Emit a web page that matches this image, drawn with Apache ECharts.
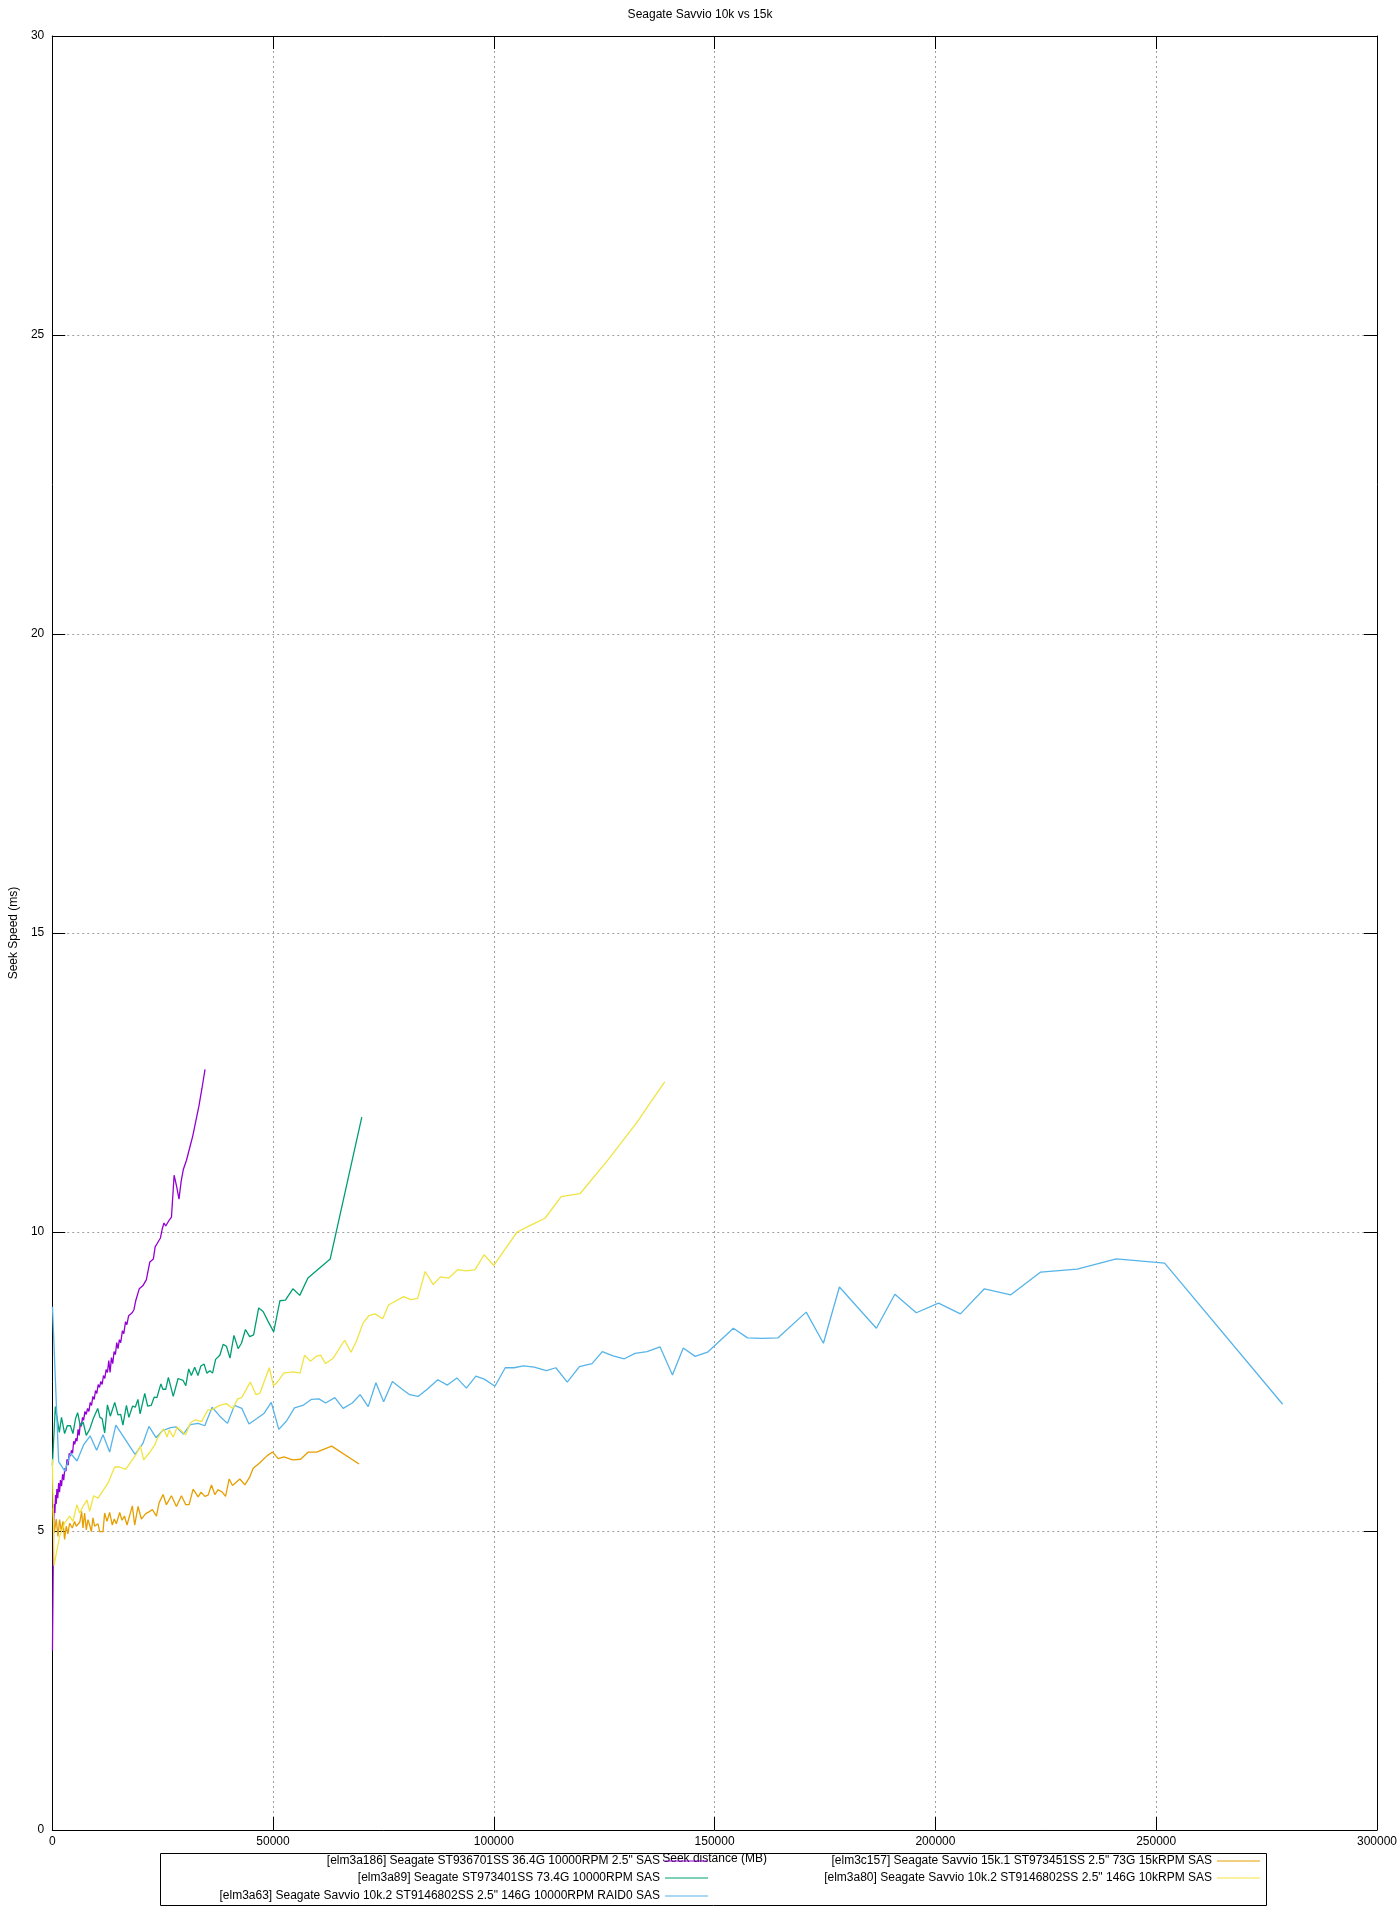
<!DOCTYPE html>
<html><head><meta charset="utf-8">
<script src="https://cdn.jsdelivr.net/npm/echarts/dist/echarts.min.js"></script>
<style>html,body{margin:0;padding:0;background:#fff}#c{width:1400px;height:1920px}</style>
</head><body><div id="c"></div>
<script>
var FONT = "'Liberation Sans', Arial, sans-serif";
var titleText = 'Seagate Savvio 10k vs 15k';
var xName = 'Seek distance (MB)';
var yName = 'Seek Speed (ms)';
var xTicks = {min: 0, max: 300000, interval: 50000};
var yTicks = {min: 0, max: 30, interval: 5};

var names = [
  '[elm3a186] Seagate ST936701SS 36.4G 10000RPM 2.5" SAS',
  '[elm3a89] Seagate ST973401SS 73.4G 10000RPM SAS',
  '[elm3a63] Seagate Savvio 10k.2 ST9146802SS 2.5" 146G 10000RPM RAID0 SAS',
  '[elm3c157] Seagate Savvio 15k.1 ST973451SS 2.5" 73G 15kRPM SAS',
  '[elm3a80] Seagate Savvio 10k.2 ST9146802SS 2.5" 146G 10kRPM SAS'
];
var colors = ['#9400d3', '#009e73', '#56b4e9', '#e69f00', '#f0e442'];

var dataA186 = [
[50,3.0],[300,5.1],[450,5.45],[600,5.3],[750,5.6],[900,5.45],[1050,5.7],[1250,5.55],[1450,5.8],[1650,5.65],
[1850,5.85],[2100,5.75],[2350,5.95],[2600,5.85],[2850,6.05],[3100,6.0],[3350,6.2],[3600,6.1],[3850,6.3],[4100,6.25],
[4350,6.35],[4600,6.3],[4850,6.5],[5100,6.45],[5350,6.55],[5600,6.5],[5850,6.7],[6100,6.6],[6350,6.8],[6600,6.75],
[6850,6.9],[7100,6.85],[7400,7.0],[7700,6.95],[8000,7.05],[8300,7.0],[8600,7.15],[8900,7.1],[9200,7.25],[9500,7.2],
[9800,7.35],[10100,7.3],[10400,7.45],[10700,7.4],[11000,7.5],[11300,7.45],[11600,7.6],[11900,7.55],[12200,7.7],[12500,7.65],
[12800,7.85],[13100,7.65],[13400,7.9],[13700,7.8],[14000,8.0],[14300,7.95],[14600,8.15],[14900,8.05],[15200,8.2],[15500,8.15],
[15900,8.35],[16200,8.3],[16600,8.5],[16900,8.45],[17300,8.6],[17700,8.6],[18100,8.65],[18500,8.7],[18900,8.85],[19300,8.85],
[19700,9.05],[20100,9.05],[20500,9.1],[20900,9.15],[21300,9.2],[21700,9.35],[22100,9.5],[22500,9.5],[22900,9.55],[23300,9.75],
[23700,9.8],[24100,9.85],[24500,9.9],[24900,10.05],[25300,10.15],[25700,10.1],[26100,10.15],[26500,10.2],[27000,10.25],[27600,10.95],
[28200,10.75],[28700,10.55],[29200,10.85],[29700,11.05],[30400,11.2],[31100,11.4],[31800,11.6],[32500,11.85],[33200,12.1],[33900,12.4],
[34600,12.72]
];

var dataA89 = [
[30,6.1],[700,7.08],[1100,7.08],[1600,6.65],[2100,6.9],[2800,6.63],[3400,6.76],[4100,6.76],[4690,6.63],[5280,6.88],
[5750,6.98],[6350,6.76],[7000,6.82],[7700,6.6],[8470,6.7],[9300,6.88],[10300,7.05],[10800,6.9],[11300,6.88],[11870,6.64],
[12500,7.11],[13150,6.92],[14150,7.15],[14900,6.94],[15500,6.95],[16000,6.77],[16800,7.1],[17350,6.9],[18200,7.09],[18800,7.07],
[19400,7.2],[19900,6.96],[20950,7.3],[21600,7.09],[22400,7.1],[23100,7.24],[23700,7.23],[24600,7.46],[25050,7.37],[25700,7.37],
[26300,7.57],[27400,7.25],[28500,7.55],[29600,7.52],[30250,7.43],[30900,7.71],[31500,7.6],[32250,7.74],[33000,7.6],[33650,7.76],
[34400,7.79],[35000,7.64],[35700,7.68],[36300,7.64],[37000,7.87],[37950,7.94],[38700,8.12],[39450,8.09],[40250,7.89],[41150,8.27],
[42100,8.05],[42850,8.14],[43750,8.37],[44700,8.25],[45600,8.28],[46750,8.73],[47750,8.67],[48850,8.51],[50150,8.33],[51550,8.85],
[52800,8.86],[54500,9.05],[56050,8.94],[57900,9.23],[62950,9.55],[70100,11.92]
];

var dataA63 = [
[50,8.75],[1450,6.16],[2850,6.0],[4150,6.3],[5600,6.17],[7100,6.44],[8600,6.59],[10050,6.35],[11500,6.61],[13000,6.32],
[14400,6.77],[18750,6.28],[20500,6.46],[21900,6.75],[23500,6.56],[25000,6.68],[26800,6.73],[28100,6.74],[29700,6.62],[31250,6.78],
[33040,6.8],[34550,6.76],[36200,7.07],[37950,6.92],[39680,6.8],[41250,7.1],[42950,7.05],[44550,6.79],[46350,6.88],[48000,6.97],
[49600,7.15],[51300,6.7],[53050,6.84],[54850,7.06],[56750,7.1],[58650,7.2],[60400,7.21],[61900,7.14],[64000,7.23],[65880,7.05],
[67950,7.14],[69720,7.28],[71550,7.08],[73300,7.48],[75050,7.16],[77030,7.5],[79100,7.38],[80950,7.28],[82840,7.25],[84910,7.37],
[87320,7.53],[89480,7.44],[91630,7.56],[93790,7.39],[95940,7.59],[97840,7.54],[100250,7.42],[102580,7.73],[104560,7.73],[106720,7.76],
[109130,7.74],[111890,7.68],[114050,7.73],[116630,7.49],[119390,7.75],[122240,7.8],[124570,8.0],[126980,7.93],[129560,7.88],[131980,7.97],
[134700,8.0],[137630,8.08],[140450,7.61],[142900,8.06],[145600,7.92],[148400,7.99],[154250,8.39],[157450,8.23],[160750,8.22],[164370,8.23],
[170740,8.66],[174640,8.14],[178260,9.08],[186630,8.39],[190820,8.96],[195670,8.65],[200710,8.81],[205660,8.63],[211090,9.05],[217080,8.95],
[223840,9.33],[232110,9.38],[240960,9.55],[251910,9.48],[278640,7.12]
];

var dataC157 = [
[150,5.38],[450,4.97],[900,5.2],[1290,4.91],[1660,5.19],[2050,5.0],[2420,5.16],[2800,4.86],[3175,5.08],[3550,4.95],
[3930,5.13],[4540,5.05],[5070,5.16],[5450,5.08],[5820,5.05],[6250,5.15],[6650,5.33],[6960,5.05],[7330,5.3],[7710,5.02],
[8090,5.19],[8470,5.1],[8850,4.99],[9220,5.22],[9600,5.08],[9980,5.05],[10360,5.12],[10740,4.99],[11490,4.99],[11870,5.3],
[12400,5.16],[13000,5.31],[13600,5.1],[14050,5.2],[14510,5.12],[15270,5.31],[15800,5.18],[16350,5.25],[16930,5.1],[17500,5.25],
[18140,5.42],[18670,5.1],[19430,5.41],[20180,5.2],[21170,5.29],[21900,5.32],[22680,5.36],[23590,5.25],[24190,5.47],[25100,5.61],
[25850,5.44],[26990,5.59],[28120,5.41],[29260,5.59],[30240,5.44],[31000,5.44],[31900,5.7],[33040,5.57],[33700,5.65],[34550,5.58],
[35300,5.6],[36060,5.77],[36820,5.61],[37570,5.69],[38500,5.65],[39240,5.58],[40070,5.87],[40820,5.76],[42490,5.87],[43620,5.77],
[44700,5.9],[45510,6.05],[47020,6.14],[48690,6.26],[49900,6.32],[51180,6.21],[52470,6.24],[54430,6.19],[56250,6.2],[57990,6.32],
[59880,6.32],[63280,6.42],[69480,6.12]
];

var dataA80 = [
[30,6.2],[400,4.42],[1660,4.91],[2800,5.13],[3930,5.25],[4690,5.16],[5590,5.44],[6200,5.3],[6960,5.41],[7860,5.52],
[8470,5.33],[9370,5.59],[10360,5.55],[12620,5.8],[14140,6.07],[15270,6.07],[16630,6.03],[18140,6.19],[18900,6.27],[19960,6.42],
[20710,6.19],[21920,6.3],[23210,6.44],[23700,6.53],[25200,6.71],[26000,6.57],[26500,6.69],[27400,6.57],[28300,6.74],[28730,6.71],
[30200,6.61],[31300,6.81],[32400,6.86],[33800,6.83],[35200,7.02],[36200,7.03],[37900,7.1],[39400,7.13],[40900,7.05],[42000,7.21],
[42900,7.23],[44850,7.49],[46150,7.28],[47000,7.3],[49150,7.73],[50100,7.43],[51100,7.5],[52400,7.64],[54570,7.66],[56120,7.64],
[57150,7.94],[58450,7.84],[59740,7.92],[60780,7.94],[61900,7.8],[63620,7.89],[66210,8.19],[67670,7.99],[68850,8.17],[70400,8.48],
[71700,8.6],[73100,8.63],[74850,8.55],[76150,8.78],[79570,8.92],[81200,8.87],[82750,8.89],[84450,9.34],[86280,9.12],[87900,9.25],
[89800,9.23],[91800,9.37],[93800,9.35],[95750,9.37],[97800,9.62],[100000,9.44],[102700,9.73],[105300,10.0],[108260,10.11],[111600,10.23],
[115240,10.59],[119520,10.64],[125900,11.21],[132280,11.82],[138700,12.51]
];

var seriesData = [dataA186, dataA89, dataA63, dataC157, dataA80];

var txt = {color: '#000', fontSize: 12, fontFamily: FONT};
var tick = {show: true, inside: true, length: 13, lineStyle: {color: '#000', width: 1}};
var axLine = {show: true, onZero: false, lineStyle: {color: '#000', width: 1}};
var split = {show: true, lineStyle: {color: '#a0a0a0', width: 1, type: [2, 3]}};
var plain = function (v) { return String(v); };

var legendPos = [
  {right: 692, top: 1855}, {right: 692, top: 1872}, {right: 692, top: 1890},
  {right: 140, top: 1855}, {right: 140, top: 1872}
];

var chart = echarts.init(document.getElementById('c'), null, {renderer: 'canvas'});
chart.setOption({
  animation: false,
  backgroundColor: '#fff',
  title: {text: titleText, left: 'center', top: 9, padding: 0,
    textStyle: {color: '#000', fontSize: 12, fontWeight: 'normal', fontFamily: FONT}},
  grid: {left: 47, right: 21, top: 36, bottom: 90, containLabel: false},
  xAxis: [
    {type: 'value', position: 'bottom', min: xTicks.min, max: xTicks.max, interval: xTicks.interval,
     axisLine: axLine, axisTick: tick, splitLine: split,
     axisLabel: Object.assign({margin: 6, showMinLabel: true, showMaxLabel: true, hideOverlap: false, formatter: plain}, txt),
     name: xName, nameLocation: 'middle', nameGap: 23, nameTextStyle: txt},
    {type: 'value', position: 'top', min: xTicks.min, max: xTicks.max, interval: xTicks.interval,
     axisLine: axLine, axisTick: tick, splitLine: {show: false}, axisLabel: {show: false}}
  ],
  yAxis: [
    {type: 'value', position: 'left', min: yTicks.min, max: yTicks.max, interval: yTicks.interval,
     axisLine: axLine, axisTick: tick, splitLine: split,
     axisLabel: Object.assign({margin: 8, showMinLabel: true, showMaxLabel: true, formatter: plain}, txt),
     name: yName, nameLocation: 'middle', nameGap: 31, nameTextStyle: txt},
    {type: 'value', position: 'right', min: yTicks.min, max: yTicks.max, interval: yTicks.interval,
     axisLine: axLine, axisTick: tick, splitLine: {show: false}, axisLabel: {show: false}}
  ],
  legend: legendPos.map(function (p, i) {
    return {data: [{name: names[i], icon: 'path://M0,0L100,0L100,2.6L0,2.6Z'}],
      right: p.right, top: p.top, align: 'right', orient: 'vertical',
      padding: 0, itemWidth: 43, itemHeight: 12, selectedMode: false, textStyle: txt};
  }),
  graphic: [{type: 'rect', shape: {x: 160.5, y: 1853.5, width: 1106, height: 52},
    style: {fill: 'none', stroke: '#000', lineWidth: 1}, z: 100}],
  series: seriesData.map(function (d, i) {
    return {type: 'line', name: names[i], data: d, xAxisIndex: 0, yAxisIndex: 0,
      symbol: 'none', showSymbol: false, smooth: false,
      lineStyle: {color: colors[i], width: 1.3}, itemStyle: {color: colors[i]},
      emphasis: {disabled: true}, z: 2 + i};
  })
});
</script></body></html>
